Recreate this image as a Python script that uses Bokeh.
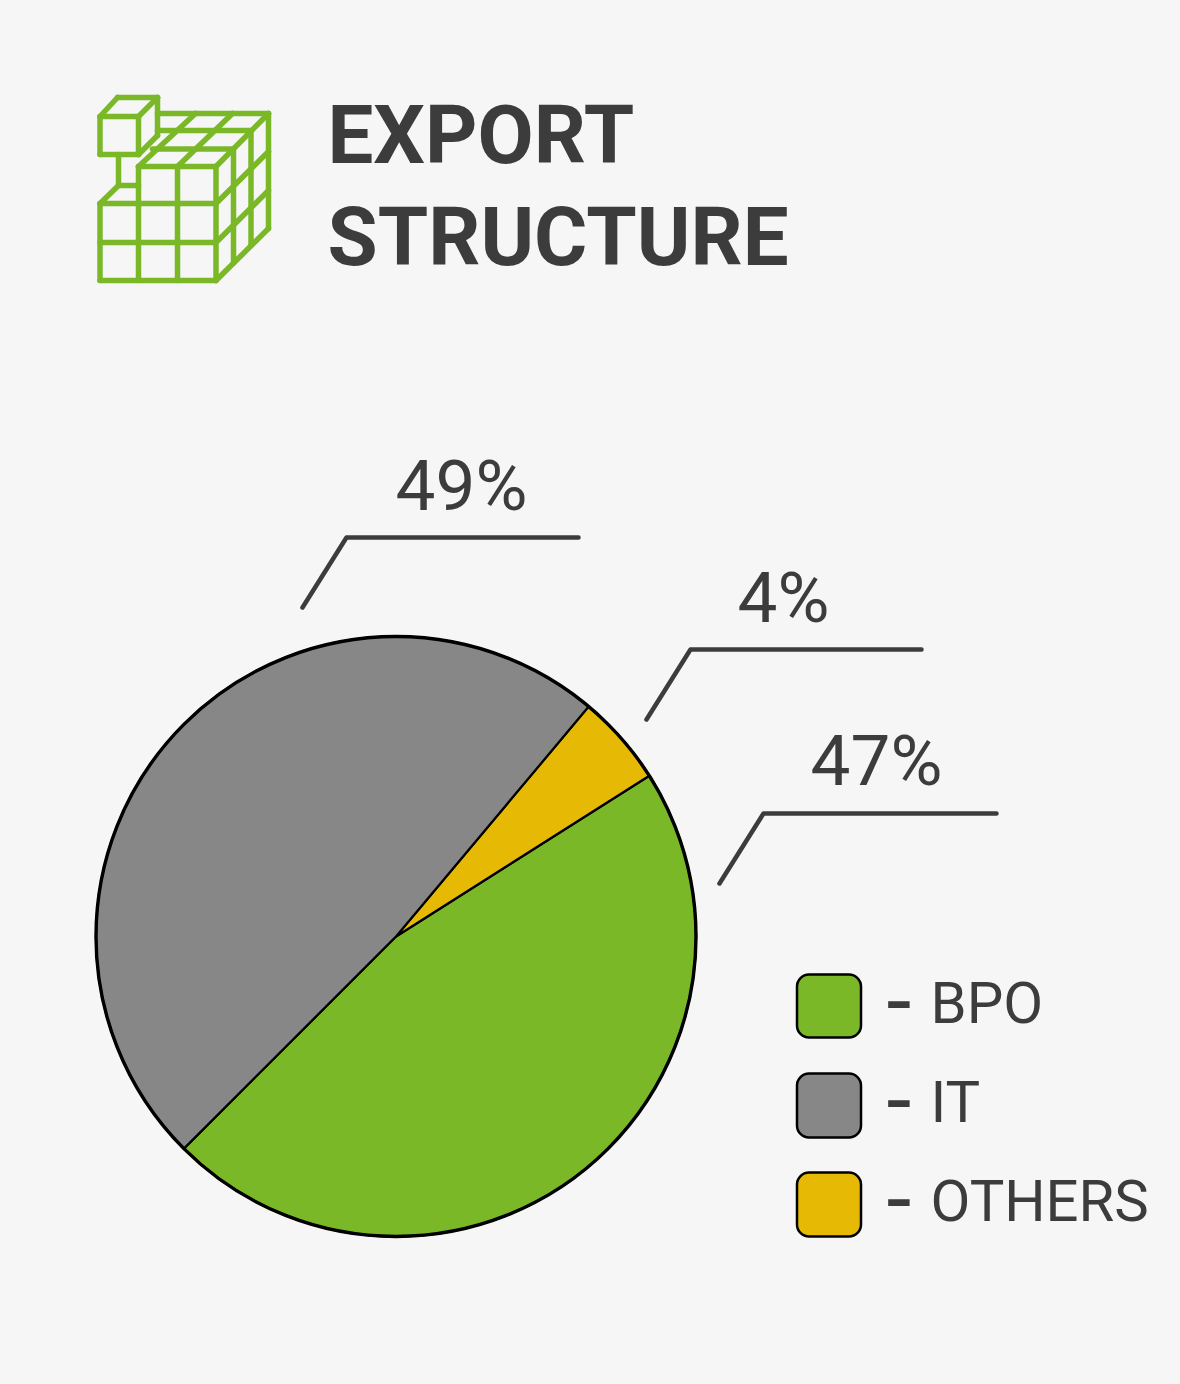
import math
from bokeh.plotting import figure
from bokeh.embed import file_html
from bokeh.resources import INLINE
from bokeh.core.properties import value

categories = ["BPO", "IT", "OTHERS"]
shares = [46.5, 48.6, 4.9]
share_labels = ["47%", "49%", "4%"]
colors = ["#7AB828", "#878787", "#E6B904"]
title_lines = ["EXPORT", "STRUCTURE"]
pie_order = [0, 2, 1]
pie_start_deg = 225.0

BG = "#F6F6F6"
INK = "#3C3C3C"
FONT = "Roboto"
W, H = 1180, 1384


def Y(y):
    return H - y


p = figure(width=1164, height=1368, x_range=(0, 1164), y_range=(16, 1384),
           output_backend="svg", toolbar_location=None, min_border=0,
           background_fill_color=BG, border_fill_color=BG, outline_line_color=None)
p.axis.visible = False
p.grid.visible = False

# icon
icon_segments = [
    [(99.5, 280), (215.5, 280)], [(99.5, 242), (215.5, 242)], [(99.5, 203), (215.5, 203)], [(138, 166), (215.5, 166)],
    [(99.5, 203), (99.5, 280)], [(138, 166), (138, 280)], [(177, 166), (177, 280)], [(215.5, 166), (215.5, 280)],
    [(215.5, 280), (268, 228)], [(215.5, 242), (268, 190)], [(215.5, 203), (268, 151)], [(215.5, 166), (268, 113)],
    [(233, 148.5), (233, 262.5)], [(250.5, 131), (250.5, 245)], [(268, 113), (268, 228)],
    [(157, 113), (268, 113)], [(157, 130), (250.5, 130)], [(152, 148.5), (233, 148.5)],
    [(138, 166), (195, 113)], [(177, 166), (232, 113)],
    [(99.5, 116), (138, 116)], [(138, 116), (138, 154)], [(138, 154), (99.5, 154)], [(99.5, 154), (99.5, 116)],
    [(99.5, 116), (117, 97)], [(138, 116), (157, 97)], [(138, 154), (157, 135)],
    [(117, 97), (157, 97)], [(157, 97), (157, 135)],
    [(118, 154), (118, 185)], [(118, 185), (138, 185)], [(118, 185), (99.5, 203)],
]
p.multi_line([[a[0], b[0]] for a, b in icon_segments], [[Y(a[1]), Y(b[1])] for a, b in icon_segments],
             line_color="#7AB828", line_width=5.5, line_cap="round", line_join="round")

# title (baseline values compensate the renderer's text offset)
p.text(x=[327, 327], y=[Y(134), Y(236)], text=title_lines, text_font=value(FONT),
       text_font_size="81.5px", text_color=INK, text_baseline="alphabetic", text_align="left",
       text_font_style="bold")

# pie
cx, cy, r = 395.5, Y(936), 300
a = pie_start_deg
for i in pie_order:
    b = a + shares[i] * 3.6
    p.wedge(x=[cx], y=[cy], radius=r, start_angle=math.radians(a), end_angle=math.radians(b),
            fill_color=colors[i], line_color="#000000", line_width=2.2)
    a = b
p.circle(x=[cx], y=[cy], radius=r, fill_color=None, line_color="#000000", line_width=3.4)

# leaders
leaders = {0: [(719, 883), (763, 813), (996, 813)],
           1: [(302, 607), (346, 537), (578, 537)],
           2: [(646, 719), (690, 649), (921, 649)]}
label_pos = {0: (876, 760), 1: (461, 485), 2: (783, 597)}
for i, pts in leaders.items():
    p.line([q[0] for q in pts], [Y(q[1]) for q in pts], line_color=INK, line_width=4.5,
           line_cap="round", line_join="round")
    p.text(x=[label_pos[i][0]], y=[Y(label_pos[i][1])], text=[share_labels[i]], text_font=value(FONT),
           text_font_size="71px", text_color=INK, text_baseline="alphabetic", text_align="center")

# legend
rows = [(974, 1037, 1002), (1073, 1137, 1101), (1172, 1236, 1200)]
for i, (top, bottom, base) in enumerate(rows):
    p.quad(left=[796.5], right=[860.5], top=[Y(top)], bottom=[Y(bottom)], fill_color=colors[i],
           line_color="#000000", line_width=2.5, border_radius=12)
    p.text(x=[886], y=[Y(base - 3)], text=["-"], text_font=value(FONT),
           text_font_size="90px", text_color=INK, text_baseline="alphabetic", text_align="left")
    p.text(x=[930], y=[Y(base)], text=[categories[i]], text_font=value(FONT),
           text_font_size="58px", text_color=INK, text_baseline="alphabetic", text_align="left")

html = file_html(p, INLINE)
html = html.replace("</head>", "<style>html,body{background:%s}</style></head>" % BG)
open("out.html", "w").write(html)
